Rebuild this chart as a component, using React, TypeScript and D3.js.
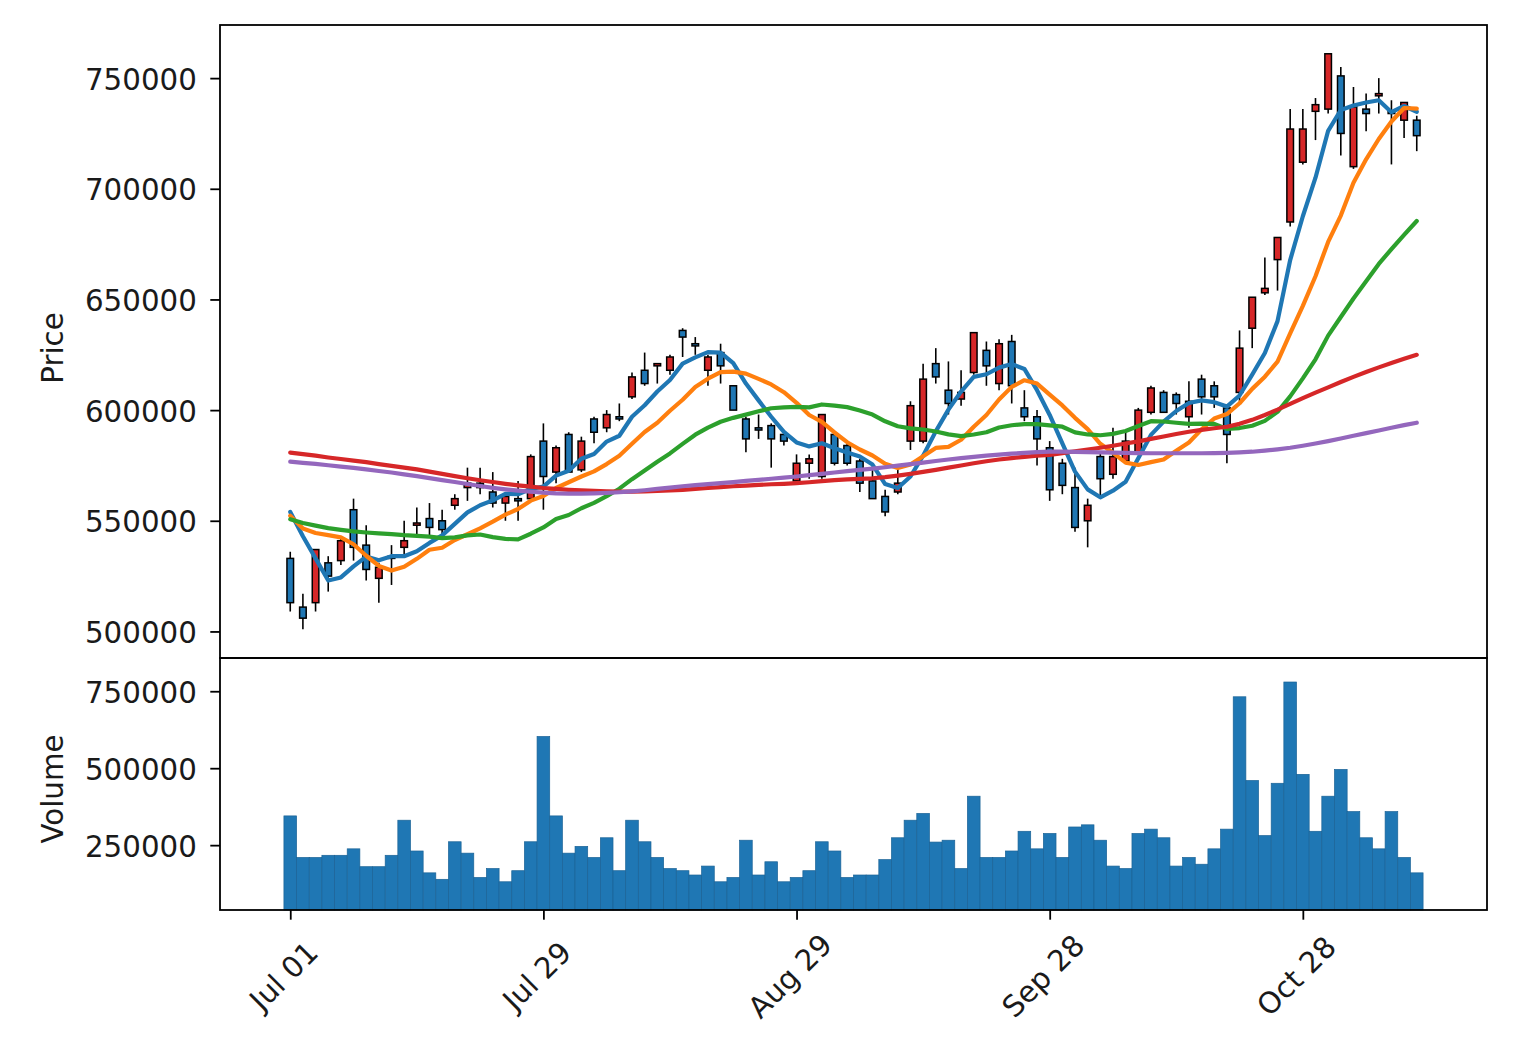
import React, { useEffect, useRef } from "react";
import * as d3 from "d3";

// daily candles, 2022-07-01 .. 2022-11-10 (90 trading days)
const opens = [
  533000, 511000, 513000, 531000, 532000, 555000, 539000, 524000, 533000, 538000,
  548000, 551000, 550000, 557000, 565000, 567000, 563000, 558000, 560000, 560000,
  586000, 572000, 589000, 573000, 596000, 592000, 597000, 606000, 618000, 620000,
  618000, 636000, 630000, 618000, 626000, 611000, 596000, 592000, 593000, 589000,
  568000, 576000, 570000, 589000, 584000, 577000, 568000, 561000, 563000, 586000,
  586000, 621000, 609000, 605000, 617000, 627000, 612000, 631000, 601000, 597000,
  583000, 576000, 565000, 550000, 579000, 571000, 577000, 581000, 599000, 608000,
  607000, 597000, 614000, 611000, 601000, 608000, 637000, 653000, 668000, 685000,
  712000, 735000, 736000, 751000, 710000, 736000, 742000, 735000, 731000, 731000,
];
const highs = [
  536000, 517000, 537000, 534000, 542000, 560000, 548000, 531000, 539000, 550000,
  556000, 558000, 555000, 562000, 574000, 574000, 572000, 561000, 568000, 580000,
  594000, 584000, 590000, 588000, 597000, 600000, 603000, 617000, 626000, 621000,
  625000, 637000, 633000, 625000, 630000, 611000, 597000, 598000, 594000, 589000,
  580000, 580000, 598000, 590000, 585000, 578000, 574000, 564000, 574000, 604000,
  621000, 628000, 622000, 618000, 635000, 631000, 632000, 634000, 609000, 600000,
  586000, 578000, 574000, 560000, 581000, 592000, 591000, 601000, 611000, 609000,
  608000, 613000, 616000, 613000, 602000, 636000, 651000, 669000, 678000, 736000,
  736000, 741000, 761000, 755000, 746000, 743000, 750000, 740000, 739000, 733000,
];
const lows = [
  509000, 501000, 509000, 518000, 530000, 532000, 523000, 513000, 521000, 535000,
  543000, 543000, 542000, 555000, 559000, 562000, 556000, 550000, 550000, 559000,
  555000, 567000, 572000, 572000, 585000, 590000, 595000, 605000, 611000, 612000,
  616000, 624000, 625000, 611000, 612000, 600000, 581000, 587000, 574000, 584000,
  567000, 569000, 569000, 575000, 575000, 563000, 560000, 552000, 562000, 582000,
  585000, 612000, 598000, 602000, 616000, 611000, 609000, 603000, 595000, 575000,
  559000, 562000, 545000, 538000, 560000, 569000, 576000, 580000, 598000, 599000,
  598000, 592000, 598000, 601000, 576000, 604000, 628000, 652000, 654000, 683000,
  711000, 722000, 734000, 715000, 709000, 726000, 734000, 711000, 723000, 717000,
];
const closes = [
  513000, 506000, 537000, 525000, 541000, 538000, 528000, 529000, 534000, 541000,
  549000, 547000, 546000, 560000, 567000, 565000, 558000, 561000, 559000, 579000,
  570000, 583000, 572000, 586000, 590000, 598000, 596000, 615000, 612000, 621000,
  624000, 633000, 629000, 624000, 620000, 600000, 587000, 591000, 587000, 586000,
  576000, 578000, 598000, 576000, 576000, 567000, 560000, 554000, 567000, 602000,
  614000, 615000, 603000, 608000, 635000, 620000, 630000, 611000, 597000, 587000,
  564000, 566000, 547000, 557000, 569000, 579000, 586000, 600000, 610000, 599000,
  603000, 604000, 606000, 606000, 589000, 628000, 651000, 655000, 678000, 727000,
  727000, 738000, 761000, 725000, 737000, 734000, 743000, 734000, 739000, 724000,
];
const volumes = [
  345000, 210000, 210000, 217000, 217000, 238000, 180000, 180000, 217000, 331000,
  231000, 160000, 139000, 261000, 224000, 145000, 174000, 131000, 167000, 261000,
  603000, 345000, 224000, 246000, 210000, 274000, 167000, 331000, 261000, 210000,
  174000, 167000, 153000, 182000, 131000, 145000, 266000, 153000, 196000, 131000,
  145000, 167000, 261000, 231000, 145000, 153000, 153000, 203000, 274000, 331000,
  353000, 260000, 266000, 174000, 409000, 210000, 210000, 231000, 295000, 238000,
  288000, 210000, 309000, 316000, 266000, 182000, 174000, 288000, 302000, 274000,
  182000, 210000, 188000, 238000, 302000, 732000, 460000, 281000, 451000, 780000,
  480000, 295000, 409000, 496000, 359000, 274000, 238000, 359000, 210000, 160000,
];

// moving averages as drawn (5, 10, 20, 60, 120 days)
const ma5 = [
  554000, 543000, 533000, 523000, 524400, 529400, 533800, 532200, 534000, 534000,
  536200, 540000, 543400, 548600, 553800, 557000, 559200, 562200, 562000, 564400,
  565400, 570400, 572600, 578000, 580200, 585800, 588400, 597000, 602200, 608400,
  613600, 621000, 623800, 626200, 626000, 621200, 612000, 604400, 597000, 590200,
  585400, 583600, 585000, 582800, 580800, 579000, 575400, 566600, 564800, 570000,
  579400, 590400, 600200, 608400, 615000, 616200, 619200, 620800, 618600, 609000,
  597800, 585000, 572200, 564200, 560600, 563600, 567600, 578200, 588800, 594800,
  599600, 603200, 604400, 603600, 601600, 606600, 616000, 625800, 640200, 667800,
  687600, 705000, 726200, 735600, 737600, 739000, 740000, 734600, 737400, 734800,
];
const ma10 = [
  552300, 546500, 544500, 543500, 542500, 539400, 534200, 529600, 527500, 529200,
  532800, 536900, 537800, 541300, 543900, 546600, 549600, 552800, 555300, 559100,
  561200, 564800, 567400, 570000, 572300, 575600, 579400, 584800, 590100, 594300,
  599700, 604700, 610400, 614200, 617200, 617400, 616500, 614100, 611600, 608100,
  603300, 597800, 594700, 589900, 585500, 582200, 579500, 575800, 573800, 575400,
  579200, 582900, 583400, 586600, 592500, 597800, 604800, 610500, 613500, 612000,
  607000, 602100, 596500, 591400, 584800, 580700, 576300, 575200, 576500, 577700,
  581600, 585400, 591300, 596200, 598200, 603100, 609600, 615100, 621900, 634700,
  647100, 660500, 676000, 687900, 702700, 713300, 722500, 730400, 736500, 736200,
];
const ma20 = [
  550700, 549000, 547800, 546700, 545900, 545200, 544700, 544300, 544000, 543500,
  543200, 542800, 542200, 542500, 543400, 543800, 542600, 541800, 541600, 544150,
  547000, 550850, 552600, 555650, 558100, 561100, 564500, 568800, 572700, 576700,
  580450, 584750, 588900, 592100, 594750, 596500, 597950, 599450, 600850, 601200,
  601500, 601250, 602550, 602050, 601350, 599800, 598000, 594950, 592700, 591750,
  591250, 590350, 589050, 588250, 589000, 590000, 592150, 593150, 593650, 593700,
  593100, 592500, 589950, 589000, 588650, 589250, 590550, 592850, 595000, 594850,
  594300, 593750, 593900, 593800, 591500, 591900, 592950, 595150, 599200, 606200,
  614350, 622950, 633650, 642050, 650450, 658200, 666050, 672750, 679200, 685450,
];
const ma60 = [
  580800, 580100, 579400, 578600, 577900, 577200, 576500, 575600, 574800, 574000,
  573200, 572200, 571200, 570200, 569200, 568300, 567500, 566700, 566000, 565400,
  564800, 564400, 564000, 563700, 563500, 563300, 563200, 563200, 563300, 563500,
  563700, 564000, 564400, 564800, 565200, 565600, 565900, 566200, 566500, 566700,
  567000, 567400, 567900, 568400, 568700, 568900, 569200, 569700, 570400, 571200,
  572100, 573000, 574000, 575000, 576000, 576900, 577700, 578300, 578900, 579400,
  579800, 580600, 581400, 582200, 583000, 583900, 584900, 585900, 587000, 588100,
  589200, 590200, 591100, 591800, 592500, 593800, 595600, 597800, 600200, 602800,
  605400, 607900, 610300, 612700, 615000, 617200, 619300, 621300, 623200, 625000,
];
const ma120 = [
  576700, 576200, 575700, 575100, 574500, 573900, 573200, 572500, 571800, 571000,
  570200, 569300, 568400, 567500, 566600, 565700, 564900, 564200, 563600, 563100,
  562700, 562400, 562300, 562300, 562400, 562600, 562900, 563300, 563800, 564400,
  565000, 565600, 566100, 566600, 567000, 567500, 568000, 568500, 569000, 569500,
  570000, 570600, 571200, 571800, 572400, 573000, 573600, 574200, 574900, 575600,
  576300, 577000, 577700, 578300, 578900, 579400, 579900, 580300, 580700, 581000,
  581200, 581200, 581100, 581000, 580900, 580800, 580700, 580600, 580500, 580500,
  580500, 580500, 580500, 580600, 580700, 580900, 581200, 581700, 582300, 583000,
  583900, 584900, 586000, 587200, 588400, 589600, 590800, 592000, 593200, 594300,
];

const xTickIndex = [0, 20, 40, 60, 80];
const xTickLabels = ["Jul 01", "Jul 29", "Aug 29", "Sep 28", "Oct 28"];
const priceTicks = [500000, 550000, 600000, 650000, 700000, 750000];
const volumeTicks = [250000, 500000, 750000];

const W = 1536;
const H = 1060;
const left = 220;
const right = 1487;
const top = 25;
const split = 658;
const bottom = 910;
const FONT = "DejaVu Sans, sans-serif";
const FS = 29.3;

const App = () => {
  const chartRef = useRef<SVGSVGElement>(null);

  const drawChart = () => {
    const svg = d3.select(chartRef.current);
    svg.selectAll("*").remove();

    const n = closes.length;
    const x = d3.scaleLinear().domain([-5.55, n - 1 + 5.55]).range([left, right]);

    // price range padded like mplfinance does
    const lo = d3.min(lows) as number;
    const hi = d3.max(highs) as number;
    const pad = (hi - lo) * 0.05;
    const y = d3.scaleLinear().domain([lo - pad, hi + pad]).range([split, top]);

    const yv = d3
      .scaleLinear()
      .domain([0.3 * (d3.min(volumes) as number), 1.1 * (d3.max(volumes) as number)])
      .range([bottom, split]);

    svg.append("rect").attr("width", W).attr("height", H).attr("fill", "#fff");

    // volume bars
    const step = x(1) - x(0);
    svg
      .append("g")
      .selectAll("rect")
      .data(volumes)
      .join("rect")
      .attr("x", (d, i) => x(i) - step / 2)
      .attr("width", step)
      .attr("y", (d) => yv(d))
      .attr("height", (d) => bottom - yv(d))
      .attr("fill", "#1f77b4")
      .attr("stroke", "#1b6396")
      .attr("stroke-width", 0.7);

    // candles
    const bw = 6.6;
    const candles = svg.append("g");
    closes.forEach((c, i) => {
      const o = opens[i];
      candles
        .append("line")
        .attr("x1", x(i))
        .attr("x2", x(i))
        .attr("y1", y(highs[i]))
        .attr("y2", y(lows[i]))
        .attr("stroke", "#000")
        .attr("stroke-width", 1.6);
      const yTop = y(Math.max(o, c));
      const hgt = Math.max(0.6, Math.abs(y(o) - y(c)));
      candles
        .append("rect")
        .attr("x", x(i) - bw / 2)
        .attr("y", yTop)
        .attr("width", bw)
        .attr("height", hgt)
        .attr("fill", c >= o ? "#d62728" : "#1f77b4")
        .attr("stroke", "#000")
        .attr("stroke-width", 1.5);
    });

    // moving averages
    const line = d3
      .line<number>()
      .x((d, i) => x(i))
      .y((d) => y(d));
    const mas: [number[], string][] = [
      [ma5, "#1f77b4"],
      [ma10, "#ff7f0e"],
      [ma20, "#2ca02c"],
      [ma60, "#d62728"],
      [ma120, "#9467bd"],
    ];
    svg
      .append("g")
      .selectAll("path")
      .data(mas)
      .join("path")
      .attr("d", (d) => line(d[0]))
      .attr("fill", "none")
      .attr("stroke", (d) => d[1])
      .attr("stroke-width", 4.2)
      .attr("stroke-linejoin", "round")
      .attr("stroke-linecap", "round");

    // axes
    const styleAxis = (g) => {
      g.select(".domain").remove();
      g.selectAll(".tick line").attr("stroke", "#000").attr("stroke-width", 1.8);
      g.selectAll(".tick text")
        .attr("fill", "#1a1a1a")
        .style("font-family", FONT)
        .style("font-size", `${FS}px`);
    };

    svg
      .append("g")
      .attr("transform", `translate(${left},0)`)
      .call(d3.axisLeft(y).tickValues(priceTicks).tickFormat(d3.format("d")).tickSize(9.7).tickPadding(13.5))
      .call(styleAxis)
      .selectAll(".tick text")
      .attr("dy", "0.38em");

    svg
      .append("g")
      .attr("transform", `translate(${left},0)`)
      .call(d3.axisLeft(yv).tickValues(volumeTicks).tickFormat(d3.format("d")).tickSize(9.7).tickPadding(13.5))
      .call(styleAxis)
      .selectAll(".tick text")
      .attr("dy", "0.38em");

    svg
      .append("g")
      .attr("transform", `translate(0,${bottom})`)
      .call(
        d3
          .axisBottom(x)
          .tickValues(xTickIndex)
          .tickFormat((d, i) => xTickLabels[i])
          .tickSize(9.7)
      )
      .call(styleAxis)
      .selectAll(".tick text")
      .attr("text-anchor", "middle")
      .attr("x", -7)
      .attr("y", 66)
      .attr("dy", "0.35em")
      .attr("transform", "rotate(-45 -7 66)");

    // axis titles
    const title = (txt, cy) =>
      svg
        .append("text")
        .attr("transform", `translate(63,${cy}) rotate(-90)`)
        .attr("text-anchor", "middle")
        .style("font-family", FONT)
        .style("font-size", `${FS}px`)
        .attr("fill", "#1a1a1a")
        .text(txt);
    title("Price", 348);
    title("Volume", 789);

    // panel frames
    svg
      .append("rect")
      .attr("x", left)
      .attr("y", top)
      .attr("width", right - left)
      .attr("height", split - top)
      .attr("fill", "none")
      .attr("stroke", "#000")
      .attr("stroke-width", 1.8);
    svg
      .append("rect")
      .attr("x", left)
      .attr("y", split)
      .attr("width", right - left)
      .attr("height", bottom - split)
      .attr("fill", "none")
      .attr("stroke", "#000")
      .attr("stroke-width", 1.8);
  };

  useEffect(() => {
    drawChart();
  }, []);

  return (
    <svg
      ref={chartRef}
      width={W}
      height={H}
      style={{ position: "absolute", left: 0, top: 0, display: "block" }}
    ></svg>
  );
};

export default App;
